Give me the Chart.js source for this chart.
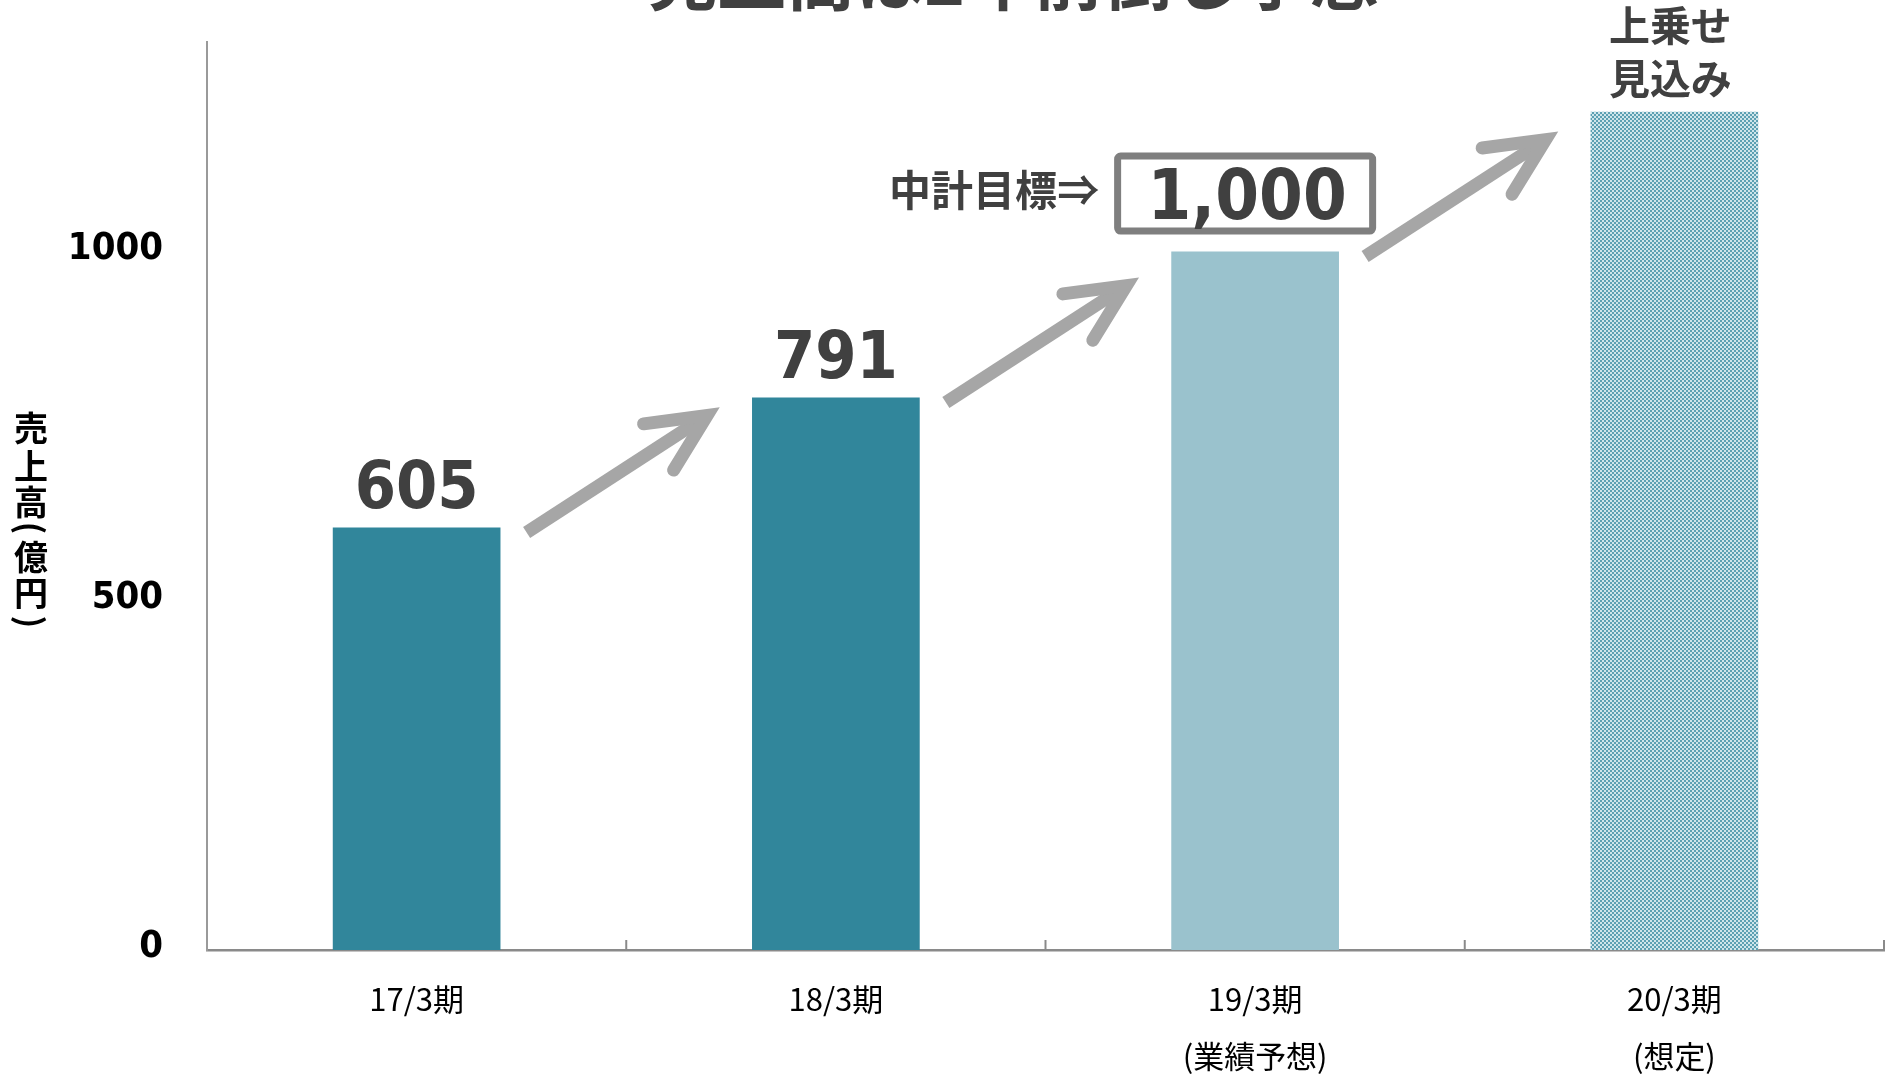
<!DOCTYPE html>
<html lang="ja">
<head>
<meta charset="utf-8">
<title>売上高推移</title>
<script src="https://cdn.jsdelivr.net/npm/chart.js@4.4.1/dist/chart.umd.min.js"></script>
<style>
  html, body { margin: 0; padding: 0; background: #fff; overflow: hidden; }
  #wrap { width: 1893px; height: 1076px; }
</style>
</head>
<body>
<div id="wrap"><canvas id="salesChart" width="1893" height="1076"></canvas></div>
<script>
const periods = [["17/3期"], ["18/3期"], ["19/3期", "(業績予想)"], ["20/3期", "(想定)"]];
const sales = [605, 791, 1000, 1200];
const yTicks = [0, 500, 1000];
const yMax = 1300;
const pageTitle = "売上高は2年前倒し予想";
const yTitleChars = ["売", "上", "高", "(", "億", "円", ")"];
const targetCaption = "中計目標⇒";
const upsideNote = ["上乗せ", "見込み"];

const TEAL = "#31869B";
const TEAL_LIGHT = "#9AC2CD";
const TEXT_DARK = "#404040";
const ARROW_GRAY = "#A6A6A6";
const NUM_FONT = '"DejaVu Sans", sans-serif';
const JP_FONT = '"Noto Sans CJK JP", sans-serif';

// fine checker used for the "想定" bar
function checkerPattern() {
  const c = document.createElement("canvas");
  c.width = 4;
  c.height = 4;
  const g = c.getContext("2d");
  g.fillStyle = "#CFE5EA";
  g.fillRect(0, 0, 4, 4);
  g.fillStyle = "#5CA0B2";
  g.fillRect(0, 0, 2, 2);
  g.fillRect(2, 2, 2, 2);
  return g.createPattern(c, "repeat");
}

function drawArrow(ctx, x0, y0) {
  const len = 215;
  const ang = Math.atan2(-125, 193);
  const tx = x0 + Math.cos(ang) * len;
  const ty = y0 + Math.sin(ang) * len;
  const back = ang + Math.PI;
  const spread = 25.5 * Math.PI / 180;
  const barb = 64;
  ctx.save();
  ctx.strokeStyle = ARROW_GRAY;
  ctx.lineWidth = 13;
  ctx.lineCap = "butt";
  ctx.beginPath();
  ctx.moveTo(x0, y0);
  ctx.lineTo(tx, ty);
  ctx.stroke();
  ctx.lineCap = "round";
  ctx.lineJoin = "miter";
  ctx.miterLimit = 10;
  ctx.beginPath();
  ctx.moveTo(tx + Math.cos(back - spread) * barb, ty + Math.sin(back - spread) * barb);
  ctx.lineTo(tx, ty);
  ctx.lineTo(tx + Math.cos(back + spread) * barb, ty + Math.sin(back + spread) * barb);
  ctx.stroke();
  ctx.restore();
}

const slideNotes = {
  id: "slideNotes",
  afterDatasetsDraw(chart) {
    const { ctx, chartArea } = chart;
    const xs = chart.scales.x;
    const bars = chart.getDatasetMeta(0).data;
    const half = (xs.getPixelForValue(1) - xs.getPixelForValue(0)) / 2;

    ctx.save();

    // short tick marks between the periods, pointing up into the plot
    ctx.strokeStyle = "#8A8A8A";
    ctx.lineWidth = 2;
    bars.forEach((b) => {
      ctx.beginPath();
      ctx.moveTo(b.x + half, chartArea.bottom);
      ctx.lineTo(b.x + half, chartArea.bottom - 10);
      ctx.stroke();
    });

    // growth arrows between neighbouring bars
    for (let i = 0; i < bars.length - 1; i++) {
      drawArrow(ctx, bars[i].x + 110, bars[i].y + 5);
    }

    ctx.textAlign = "center";
    ctx.textBaseline = "middle";
    ctx.fillStyle = TEXT_DARK;

    // actual results
    ctx.font = "bold condensed 66px " + NUM_FONT;
    [0, 1].forEach((i) => {
      ctx.fillText(String(sales[i]), bars[i].x, bars[i].y - 37);
    });

    // mid-term plan target box
    const b3 = bars[2];
    const cx = b3.x - 10;
    const cy = b3.y - 58;
    ctx.strokeStyle = "#7F7F7F";
    ctx.lineWidth = 7;
    ctx.beginPath();
    ctx.roundRect(cx - 131 + 3.5, cy - 41 + 3.5, 255, 75, 3);
    ctx.stroke();
    ctx.font = "bold condensed 70px " + NUM_FONT;
    ctx.fillText(sales[2].toLocaleString("en-US"), cx + 2, cy + 7);

    ctx.textAlign = "right";
    ctx.font = "bold 42px " + JP_FONT;
    ctx.fillText(targetCaption, cx - 146, cy - 3);

    // upside note over the last bar
    const b4 = bars[3];
    ctx.textAlign = "center";
    ctx.font = "bold 41px " + JP_FONT;
    ctx.fillText(upsideNote[0], b4.x - 4, b4.y - 86);
    ctx.fillText(upsideNote[1], b4.x - 4, b4.y - 33);

    // slide heading (runs off the top edge)
    ctx.font = "bold 69px " + JP_FONT;
    ctx.fillText(pageTitle, (chartArea.left + chartArea.right) / 2 - 32, -21);

    // vertical axis title, one character per row, brackets turned sideways
    ctx.fillStyle = "#000";
    ctx.font = "bold 34px " + JP_FONT;
    const rows = [0, 38, 74, 100, 129, 165, 194];
    const top = (chartArea.top + chartArea.bottom) / 2 - 68;
    const tx = chartArea.left - 176;
    yTitleChars.forEach((ch, i) => {
      const ty = top + rows[i];
      if (ch === "(" || ch === ")") {
        ctx.save();
        ctx.translate(tx, ty);
        ctx.rotate(Math.PI / 2);
        ctx.fillText(ch, 0, 0);
        ctx.restore();
      } else {
        ctx.fillText(ch, tx, ty);
      }
    });

    ctx.restore();
  },
};

function render() {
  const ctx = document.getElementById("salesChart").getContext("2d");
  new Chart(ctx, {
    type: "bar",
    data: {
      labels: periods,
      datasets: [
        {
          label: "売上高",
          data: sales,
          backgroundColor: [TEAL, TEAL, TEAL_LIGHT, checkerPattern()],
          borderWidth: 0,
          barPercentage: 0.4,
          categoryPercentage: 1.0,
        },
      ],
    },
    options: {
      responsive: false,
      animation: false,
      devicePixelRatio: 1,
      layout: { padding: { top: 42, right: 9, left: 0, bottom: 0 } },
      plugins: {
        legend: { display: false },
        title: { display: false },
        tooltip: { enabled: false },
      },
      scales: {
        x: {
          grid: { display: false, drawTicks: false },
          border: { color: "#8A8A8A", width: 2.5 },
          ticks: {
            color: "#000",
            font: { family: JP_FONT, size: 31, lineHeight: 1.83 },
            padding: 21,
            maxRotation: 0,
            autoSkip: false,
          },
          afterFit: (scale) => {
            scale.height = 126;
            scale.paddingLeft = 0;
            scale.paddingRight = 0;
          },
        },
        y: {
          min: 0,
          max: yMax,
          grid: { display: false, drawTicks: false },
          border: { color: "#9A9A9A", width: 2 },
          ticks: {
            color: "#000",
            font: { family: NUM_FONT, weight: "bold condensed", size: 38 },
            padding: 44,
            labelOffset: -2.5,
            callback: (value) => String(value),
          },
          afterBuildTicks: (scale) => {
            scale.ticks = yTicks.map((v) => ({ value: v }));
          },
          afterFit: (scale) => {
            scale.width = 207;
            scale.paddingTop = 0;
            scale.paddingBottom = 0;
          },
        },
      },
    },
    plugins: [slideNotes],
  });
}

render();
</script>
</body>
</html>
